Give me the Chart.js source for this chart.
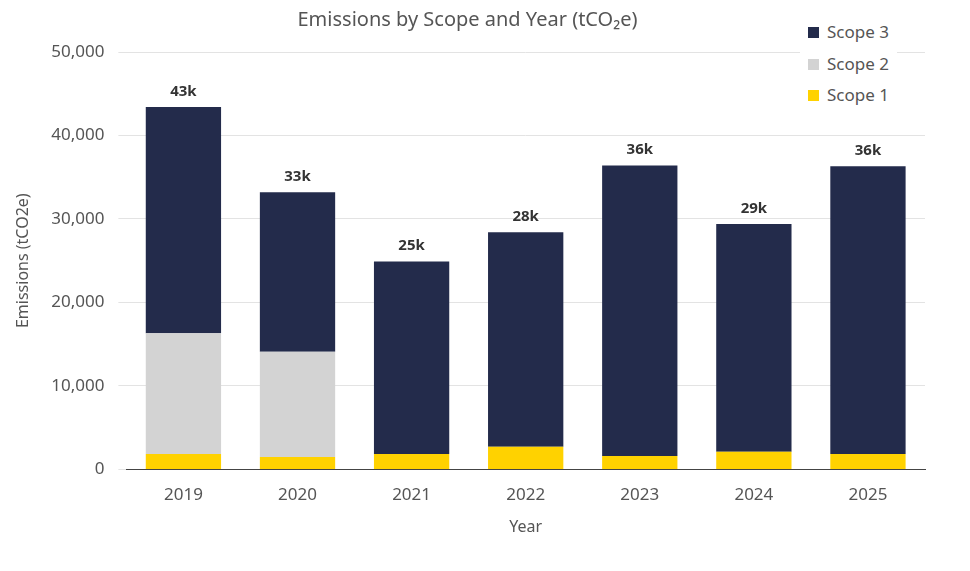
<!DOCTYPE html>
<html><head><meta charset="utf-8">
<script src="https://cdn.jsdelivr.net/npm/chart.js@4.4.0/dist/chart.umd.min.js"></script>
<style>
html,body{margin:0;padding:0;background:#fff;}
#wrap{position:relative;width:970px;height:571px;}
#legend{position:absolute;left:800px;top:14px;font-family:'Noto Sans',sans-serif;font-size:17px;color:#555;background:#fff;padding:2px 8px;}
#legend div{height:31.5px;line-height:31.5px;}
#legend span{display:inline-block;width:11px;height:11px;margin-right:8px;}
</style></head><body>
<div id="wrap"><canvas id="c" width="970" height="571"></canvas>
<div id="legend"></div></div>
<script>
const years=['2019','2020','2021','2022','2023','2024','2025'];
const scope1=[1850,1500,1850,2700,1600,2100,1850];
const scope2=[14450,12600,0,0,0,0,0];
const totals=[43400,33200,24900,28400,36400,29400,36300];
const scope3=totals.map((t,i)=>t-scope1[i]-scope2[i]);
const colors={s1:'#FFD200',s2:'#D3D3D3',s3:'#232B4B'};
const lg=document.getElementById('legend');
[['Scope 3',colors.s3],['Scope 2',colors.s2],['Scope 1',colors.s1]].forEach(([n,c])=>{lg.innerHTML+=`<div><span style="background:${c}"></span>${n}</div>`;});
const topLabels={id:'tl',afterDatasetsDraw(ch){const ctx=ch.ctx;const m=ch.getDatasetMeta(2);ctx.save();ctx.font="bold 15px 'Noto Sans',sans-serif";ctx.fillStyle='#333';ctx.textAlign='center';ctx.textBaseline='bottom';
m.data.forEach((b,i)=>{ctx.fillText(Math.round(totals[i]/1000)+'k',b.x,b.y-8);});ctx.restore();}};
new Chart(document.getElementById('c'),{type:'bar',
data:{labels:years,datasets:[
{label:'Scope 1',data:scope1,backgroundColor:colors.s1},
{label:'Scope 2',data:scope2,backgroundColor:colors.s2},
{label:'Scope 3',data:scope3,backgroundColor:colors.s3}]},
options:{responsive:false,animation:false,layout:{padding:{left:10,right:45,top:0,bottom:30}},
datasets:{bar:{categoryPercentage:1,barPercentage:0.66}},
plugins:{legend:{display:false},tooltip:{enabled:false},
title:{display:true,text:'Emissions by Scope and Year (tCO₂e)',color:'#555',font:{family:"'Noto Sans',sans-serif",size:20,weight:'normal'},padding:{top:8,bottom:20}}},
scales:{x:{stacked:true,grid:{display:false},border:{color:'#444'},ticks:{color:'#555',font:{family:"'Noto Sans',sans-serif",size:17},padding:8},
title:{display:true,text:'Year',color:'#555',font:{family:"'Noto Sans',sans-serif",size:16}}},
y:{stacked:true,min:0,max:50000,ticks:{stepSize:10000,color:'#555',font:{family:"'Noto Sans',sans-serif",size:17},padding:14},grid:{color:'#e3e3e3'},border:{display:false},
title:{display:true,text:'Emissions (tCO2e)',color:'#555',font:{family:"'Noto Sans',sans-serif",size:16}}}}},
plugins:[topLabels]});
</script></body></html>
